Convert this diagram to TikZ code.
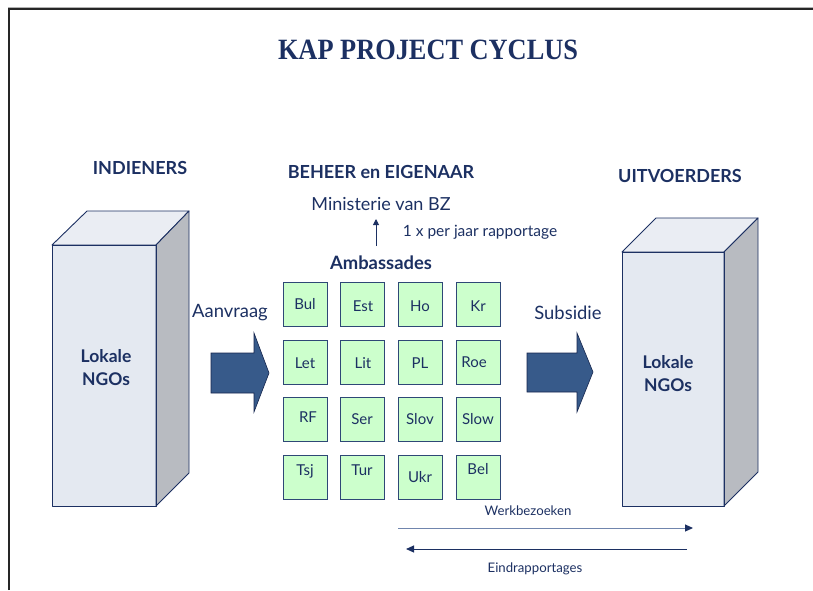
\documentclass[tikz,border=0pt]{standalone}
\usepackage{fontspec}
\setmainfont{Lato}
\newfontfamily\titlefont{Liberation Serif}
\usetikzlibrary{arrows.meta}
\definecolor{navy}{HTML}{1C3062}
\definecolor{boxfront}{HTML}{E4E9F1}
\definecolor{boxtop}{HTML}{EAEDF3}
\definecolor{boxside}{HTML}{B8BBC1}
\definecolor{fatblue}{HTML}{375A8A}
\definecolor{gridfill}{HTML}{CCFFCC}
\definecolor{gridline}{HTML}{2E4876}
\definecolor{lightline}{HTML}{7085AD}
\tikzset{
  txt/.style={text=navy, inner sep=0pt},
  head/.style={txt, font=\fontsize{18}{20}\selectfont\bfseries},
  cell/.style={draw=gridline, line width=1pt, fill=gridfill, minimum width=44pt, minimum height=44pt, inner sep=0pt},
  celltxt/.style={txt, font=\fontsize{15}{17}\selectfont},
  face/.style={draw=navy, line width=0.9pt, line join=round},
  fat/.style={draw=navy!80!black, line width=0.6pt, fill=fatblue},
  small/.style={txt, font=\fontsize{13.2}{15}\selectfont}
}
\begin{document}
\begin{tikzpicture}[x=1pt,y=-1pt]
\useasboundingbox (0,0) rectangle (813,590);
% frame
\draw[gray!60, line width=1pt] (8,7.5) -- (813,7.5);
\draw[black!85, line width=1.4pt] (9,590) -- (9,9) -- (813,9);
% title
\node[txt, anchor=base, font=\titlefont\fontsize{30}{32}\selectfont\bfseries] (title) at (428,59.5) {\resizebox{300pt}{19.5pt}{KAP PROJECT CYCLUS}};
% headings
\node[head] (indieners) at (140,168) {INDIENERS};
\node[head] (beheer) at (381,172) {BEHEER en EIGENAAR};
\node[head] (uitvoerders) at (680,176) {UITVOERDERS};
\node[txt, font=\fontsize{18}{20}\selectfont] (min) at (381,204) {Ministerie van BZ};
\node[txt, font=\fontsize{18.4}{20}\selectfont\bfseries] (amb) at (381,263) {Ambassades};
\node[txt, font=\fontsize{15.5}{17}\selectfont] (rap) at (480,232) {1 x per jaar rapportage};
\coordinate (upS) at (376,246);
\coordinate (upE) at (376,219);
\draw[navy, line width=1pt, -{Triangle[length=6pt,width=6pt]}] (upS) -- (upE);
% left box
\fill[boxfront] (52,245) rectangle (156,506);
\draw[face, fill=boxtop] (52,245) -- (87,211) -- (189,211) -- (156,245) -- cycle;
\draw[face, fill=boxside] (156,245) -- (189,211) -- (189,473) -- (156,506) -- cycle;
\draw[face] (52,245) rectangle (156,506);
\node[txt, font=\fontsize{17.5}{23}\selectfont\bfseries, align=center] (ngoL) at (106,368) {Lokale\\NGOs};
% right box
\fill[boxfront] (622,252) rectangle (724,506);
\draw[face, fill=boxtop] (622,252) -- (656,218) -- (758,218) -- (724,252) -- cycle;
\draw[face, fill=boxside] (724,252) -- (758,218) -- (758,472) -- (724,506) -- cycle;
\draw[face] (622,252) rectangle (724,506);
\node[txt, font=\fontsize{17.5}{23}\selectfont\bfseries, align=center] (ngoR) at (668,374) {Lokale\\NGOs};
% fat arrows
\draw[fat] (211,353) -- (254,353) -- (254,333) -- (269,373) -- (254,412) -- (254,393) -- (211,393) -- cycle;
\draw[fat] (527,353) -- (577,353) -- (577,333) -- (593,372) -- (577,412) -- (577,392) -- (527,392) -- cycle;
\node[txt, font=\fontsize{18.4}{20}\selectfont] (aan) at (230,313) {Aanvraag};
\node[txt, font=\fontsize{18.4}{20}\selectfont] (sub) at (568,313) {Subsidie};
% grid
\node[cell] (c11) at (305,304.5) {}; \node[celltxt] at (305,304) {Bul};
\node[cell] (c12) at (362,304.5) {}; \node[celltxt] at (363,306) {Est};
\node[cell] (c13) at (420,304.5) {}; \node[celltxt] at (420,306) {Ho};
\node[cell] (c14) at (478,304.5) {}; \node[celltxt] at (478,306) {Kr};
\node[cell] (c21) at (305,362) {}; \node[celltxt] at (305,363) {Let};
\node[cell] (c22) at (362,362) {}; \node[celltxt] at (363,363) {Lit};
\node[cell] (c23) at (420,362) {}; \node[celltxt] at (420,363) {PL};
\node[cell] (c24) at (478,362) {}; \node[celltxt] at (474,362) {Roe};
\node[cell] (c31) at (305,419.5) {}; \node[celltxt] at (308,417) {RF};
\node[cell] (c32) at (362,419.5) {}; \node[celltxt] at (362,419) {Ser};
\node[cell] (c33) at (420,419.5) {}; \node[celltxt] at (420,419) {Slov};
\node[cell] (c34) at (478,419.5) {}; \node[celltxt] at (478,419) {Slow};
\node[cell] (c41) at (305,477) {}; \node[celltxt] at (305,471) {Tsj};
\node[cell] (c42) at (362,477) {}; \node[celltxt] at (362,470) {Tur};
\node[cell] (c43) at (420,477) {}; \node[celltxt] at (420,477) {Ukr};
\node[cell] (c44) at (478,477) {}; \node[celltxt] at (478,469) {Bel};
% bottom arrows
\coordinate (w1) at (398,528);
\coordinate (w2) at (693,528);
\coordinate (e1) at (687,549);
\coordinate (e2) at (406,549);
\draw[lightline, line width=1pt, -{Triangle[length=8pt,width=7pt,color=navy]}] (w1) -- (w2);
\draw[navy, line width=1pt, -{Triangle[length=8pt,width=7pt]}] (e1) -- (e2);
\node[small] (werk) at (528,511) {Werkbezoeken};
\node[small] (eind) at (535,569) {Eindrapportages};
\end{tikzpicture}
\end{document}
